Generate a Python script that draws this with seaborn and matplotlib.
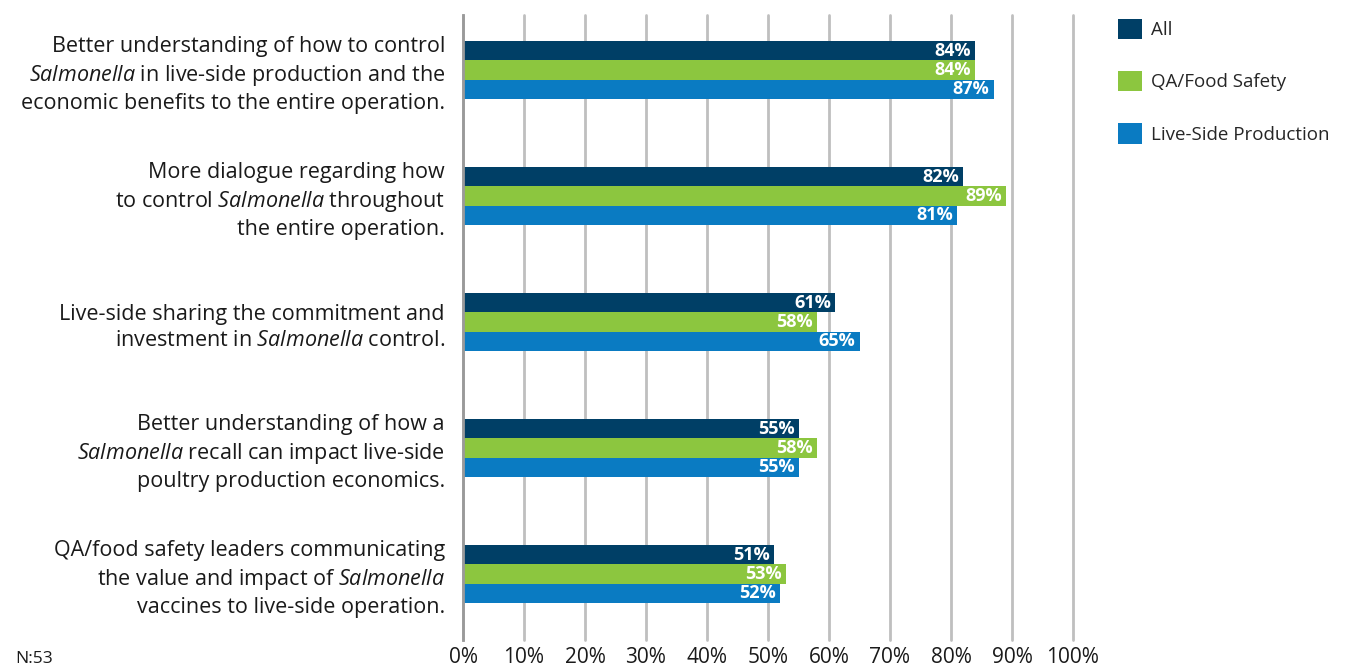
import matplotlib
matplotlib.use("Agg")
import matplotlib.pyplot as plt
import seaborn as sns
import pandas as pd
from matplotlib.patches import Patch

categories = [
    "Better understanding of how to control\n$\\mathit{Salmonella}$ in live-side production and the\neconomic benefits to the entire operation.",
    "More dialogue regarding how\nto control $\\mathit{Salmonella}$ throughout\nthe entire operation.",
    "Live-side sharing the commitment and\ninvestment in $\\mathit{Salmonella}$ control.",
    "Better understanding of how a\n$\\mathit{Salmonella}$ recall can impact live-side\npoultry production economics.",
    "QA/food safety leaders communicating\nthe value and impact of $\\mathit{Salmonella}$\nvaccines to live-side operation.",
]
series_names = ["All", "QA/Food Safety", "Live-Side Production"]
all_vals = [84, 82, 61, 55, 51]
qa_vals = [84, 89, 58, 58, 53]
live_vals = [87, 81, 65, 55, 52]
xticks = [0, 10, 20, 30, 40, 50, 60, 70, 80, 90, 100]
colors = ["#003f66", "#8cc63f", "#0a7bc2"]

sns.set_theme(style="white")
plt.rcParams["font.family"] = ["Open Sans", "DejaVu Sans"]
plt.rcParams["mathtext.fontset"] = "custom"
plt.rcParams["mathtext.rm"] = "Open Sans"
plt.rcParams["mathtext.it"] = "Open Sans:italic"

rows = []
for i, c in enumerate(categories):
    for s, vals in zip(series_names, [all_vals, qa_vals, live_vals]):
        rows.append({"cat": c, "series": s, "value": vals[i]})
df = pd.DataFrame(rows)

fig = plt.figure(figsize=(13.46, 6.68), dpi=100)
ax = fig.add_axes([463/1346, 1-640/668, (1073-463)/1346, (640-15)/668])

sns.barplot(data=df, y="cat", x="value", hue="series", orient="h",
            palette=colors, width=0.46, ax=ax, legend=False,
            saturation=1, order=categories, hue_order=series_names,
            linewidth=0, edgecolor="none")

ax.set_xlim(0, 100)
ax.set_ylim(4.524, -0.437)
ax.set_xticks(xticks)
ax.set_xticklabels([f"{t}%" for t in xticks], fontsize=15, color="#1a1a1a")
ax.tick_params(axis="x", length=0, pad=5)
ax.tick_params(axis="y", length=0, pad=13)
for lbl in ax.get_yticklabels():
    lbl.set_fontsize(15.5)
    lbl.set_color("#1a1a1a")
    lbl.set_multialignment("right")
    lbl.set_linespacing(1.32)
ax.set_xlabel("")
ax.set_ylabel("")
ax.grid(axis="x", color="#bfbfbf", linewidth=2)
for gl in ax.get_xgridlines():
    gl.set_clip_on(False)
ax.set_axisbelow(True)
for sp in ["top", "right", "bottom"]:
    ax.spines[sp].set_visible(False)
ax.spines["left"].set_color("#9a9a9a")
ax.spines["left"].set_linewidth(2)

for cont in ax.containers:
    ax.bar_label(cont, labels=[f"{int(v)}%" for v in cont.datavalues],
                 padding=-3, color="white", fontsize=13, fontweight="bold")
for t in ax.texts:
    t.set_ha("right")

handles = [Patch(facecolor=c, edgecolor="none") for c in colors]
fig.legend(handles, series_names, loc="upper left", bbox_to_anchor=(1110/1346, 1-11/668),
           frameon=False, fontsize=13.5, handlelength=1.3, handleheight=1.3,
           labelspacing=1.7, handletextpad=0.5, borderaxespad=0)

fig.text(15/1346, 1-663/668, "N:53", fontsize=12.5, color="#1a1a1a", va="baseline")

fig.savefig("out.png", dpi=100)
